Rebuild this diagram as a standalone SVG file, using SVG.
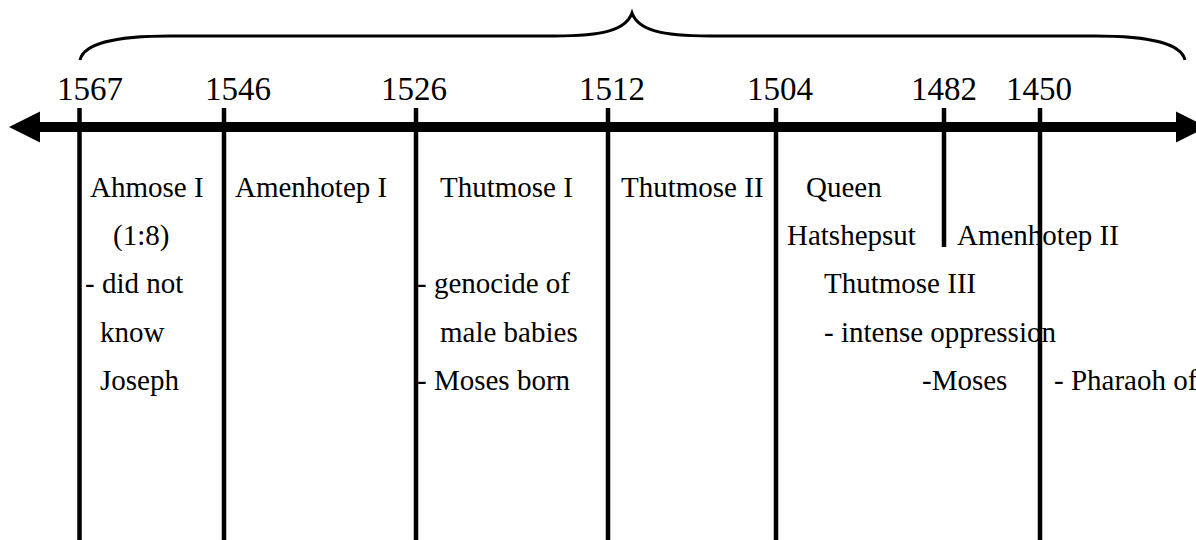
<svg xmlns="http://www.w3.org/2000/svg" width="1196" height="540" viewBox="0 0 1196 540">
  <style>
    .yr { font-family: "Liberation Serif", "Times New Roman", serif; font-size: 33px; fill: #000; }
    .lb { font-family: "Liberation Serif", "Times New Roman", serif; font-size: 29px; fill: #000; white-space: pre; }
    .tick { stroke: #000; stroke-width: 4.5; fill: none; }
    .brace { stroke: #000; stroke-width: 3; fill: none; }
  </style>
  <rect width="1196" height="540" fill="#fff"/>

  <!-- brace spanning the whole period -->
  <g id="brace">
    <path class="brace" d="M80,60 C84,44 112,36 170,36 L555,36 C603,36 626,30 632,13 C638,30 661,36 710,36 L1095,36 C1153,36 1181,44 1185,60"/>
  </g>

  <!-- main time axis with arrows at both ends -->
  <g id="axis">
    <rect x="38" y="122" width="1140" height="10" fill="#000"/>
    <polygon points="9,127 40,111.5 40,142.5" fill="#000"/>
    <polygon points="1207,127 1176,111.5 1176,142.5" fill="#000"/>
  </g>

  <!-- reign boundaries -->
  <g id="connectors">
    <line class="tick" x1="79.5" y1="108" x2="79.5" y2="540"/>
    <line class="tick" x1="224" y1="108" x2="224" y2="540"/>
    <line class="tick" x1="416" y1="108" x2="416" y2="540"/>
    <line class="tick" x1="608" y1="108" x2="608" y2="540"/>
    <line class="tick" x1="776" y1="108" x2="776" y2="540"/>
    <line class="tick" x1="944" y1="108" x2="944" y2="247"/>
    <line class="tick" x1="1040" y1="108" x2="1040" y2="540"/>
  </g>

  <!-- year labels -->
  <g id="years">
    <text class="yr" x="57" y="100">1567</text>
    <text class="yr" x="205" y="100">1546</text>
    <text class="yr" x="381" y="100">1526</text>
    <text class="yr" x="579" y="100">1512</text>
    <text class="yr" x="747" y="100">1504</text>
    <text class="yr" x="911" y="100">1482</text>
    <text class="yr" x="1006" y="100">1450</text>
  </g>

  <g id="ahmose-i">
    <text class="lb" x="90" y="197">Ahmose I</text>
    <text class="lb" x="113" y="245">(1:8)</text>
    <text class="lb" x="85" y="293">- did not</text>
    <text class="lb" x="100" y="341.5">know</text>
    <text class="lb" x="100" y="390">Joseph</text>
  </g>

  <g id="amenhotep-i">
    <text class="lb" x="235" y="197">Amenhotep I</text>
  </g>

  <g id="thutmose-i">
    <text class="lb" x="440" y="197">Thutmose I</text>
    <text class="lb" x="417" y="293">- genocide of</text>
    <text class="lb" x="440" y="341.5">male babies</text>
    <text class="lb" x="417" y="390">- Moses born</text>
  </g>

  <g id="thutmose-ii">
    <text class="lb" x="621" y="197">Thutmose II</text>
  </g>

  <g id="hatshepsut">
    <text class="lb" x="806" y="197">Queen</text>
    <text class="lb" x="787" y="245">Hatshepsut</text>
  </g>

  <g id="thutmose-iii">
    <text class="lb" x="824" y="293">Thutmose III</text>
    <text class="lb" x="824" y="341.5">- intense oppression</text>
    <text class="lb" x="922" y="390">-Moses</text>
  </g>

  <g id="amenhotep-ii">
    <text class="lb" x="957" y="245">Amenhotep II</text>
    <text class="lb" x="1054" y="390">- Pharaoh of</text>
  </g>
</svg>
